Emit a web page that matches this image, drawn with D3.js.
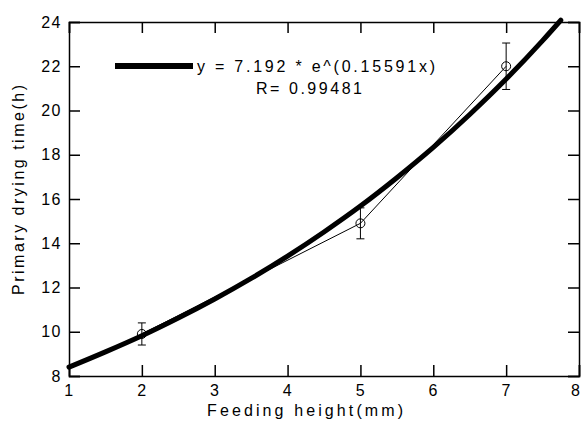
<!DOCTYPE html>
<html>
<head>
<meta charset="utf-8">
<script src="https://cdn.jsdelivr.net/npm/d3@7"></script>
<style>
  body { margin: 0; background: #fff; }
  text { font-family: "Liberation Sans", Arial, sans-serif; fill: #000; }
</style>
</head>
<body>
<div id="chart"></div>
<script>
// measured points
let heights = [2, 5, 7];
let dryTimes = [9.9, 14.9, 22.0];
let errs = [0.5, 0.7, 1.05];

// fitted curve
let fitX = [1, 1.5, 2, 2.5, 3, 3.5, 4, 4.5, 5, 5.5, 6, 6.5, 7, 7.5, 7.75];
let fitY = [8.40, 9.09, 9.82, 10.62, 11.48, 12.41, 13.42, 14.51, 15.68, 16.96, 18.33, 19.82, 21.42, 23.16, 24.08];

let xTicks = [1, 2, 3, 4, 5, 6, 7, 8];
let yTicks = [8, 10, 12, 14, 16, 18, 20, 22, 24];

let margin = {top: 22, right: 7, bottom: 47, left: 69};
let fullWidth = 586, fullHeight = 423;
let width = fullWidth - margin.left - margin.right;
let height = fullHeight - margin.top - margin.bottom;

let svg = d3.select("#chart").append("svg")
    .attr("width", fullWidth)
    .attr("height", fullHeight);

let g = svg.append("g")
    .attr("transform", "translate(" + margin.left + "," + margin.top + ")");

let x = d3.scaleLinear().domain([1, 8]).range([0, width]);
let y = d3.scaleLinear().domain([8, 24]).range([height, 0]);

let tick = 11;

// axes (ticks inward, all four sides)
let xAxis = g.append("g").attr("transform", "translate(0," + height + ")")
    .call(d3.axisBottom(x).tickValues(xTicks).tickSize(-tick).tickPadding(9).tickFormat(d3.format("d")));
xAxis.selectAll(".tick").filter(d => d === 8).select("text").attr("dx", "-0.2em");
g.append("g")
    .call(d3.axisTop(x).tickValues(xTicks).tickSize(-tick).tickFormat(""));
g.append("g")
    .call(d3.axisLeft(y).tickValues(yTicks).tickSize(-tick).tickPadding(7).tickFormat(d3.format("d")));
g.append("g").attr("transform", "translate(" + width + ",0)")
    .call(d3.axisRight(y).tickValues(yTicks).tickSize(-tick).tickFormat(""));

g.selectAll(".domain").attr("stroke", "#000").attr("stroke-width", 1.5);
g.selectAll(".tick line").attr("stroke", "#000").attr("stroke-width", 1.5);
g.selectAll(".tick text")
    .style("font-size", "16px")
    .style("letter-spacing", "1.5px")
    .style("font-family", "Liberation Sans, Arial, sans-serif");

// data line + markers + error bars
let dataLine = d3.line().x((d, i) => x(heights[i])).y(d => y(d));
g.append("path").datum(dryTimes)
    .attr("d", dataLine)
    .attr("fill", "none").attr("stroke", "#000").attr("stroke-width", 1);

heights.forEach(function(h, i) {
  let cx = x(h);
  let top = y(dryTimes[i] + errs[i]), bot = y(dryTimes[i] - errs[i]);
  g.append("line").attr("x1", cx).attr("x2", cx).attr("y1", top).attr("y2", bot)
      .attr("stroke", "#000").attr("stroke-width", 1);
  [top, bot].forEach(function(yy) {
    g.append("line").attr("x1", cx - 4).attr("x2", cx + 4).attr("y1", yy).attr("y2", yy)
        .attr("stroke", "#000").attr("stroke-width", 1);
  });
  g.append("circle").attr("cx", cx).attr("cy", y(dryTimes[i])).attr("r", 4.5)
      .attr("fill", "none").attr("stroke", "#000").attr("stroke-width", 1);
});

// fit curve
let fitLine = d3.line()
    .x((d, i) => x(fitX[i]))
    .y(d => y(d))
    .curve(d3.curveMonotoneX);
g.append("path").datum(fitY)
    .attr("d", fitLine)
    .attr("fill", "none").attr("stroke", "#000").attr("stroke-width", 5)
    .attr("stroke-linecap", "round");

// legend
svg.append("line").attr("x1", 115).attr("x2", 193).attr("y1", 66).attr("y2", 66)
    .attr("stroke", "#000").attr("stroke-width", 6);
svg.append("text").attr("x", 197).attr("y", 72)
    .attr("textLength", 238).attr("lengthAdjust", "spacing")
    .style("font-size", "16px")
    .text("y = 7.192 * e^(0.15591x)");
svg.append("text").attr("x", 256).attr("y", 94)
    .attr("textLength", 106).attr("lengthAdjust", "spacing")
    .style("font-size", "16px")
    .text("R= 0.99481");

// axis labels
svg.append("text").attr("x", 207).attr("y", 416)
    .attr("textLength", 196).attr("lengthAdjust", "spacing")
    .style("font-size", "16px")
    .text("Feeding height(mm)");
svg.append("text")
    .attr("transform", "translate(24,190) rotate(-90)")
    .attr("text-anchor", "middle")
    .attr("textLength", 210).attr("lengthAdjust", "spacing")
    .style("font-size", "16px")
    .text("Primary drying time(h)");
</script>
</body>
</html>
